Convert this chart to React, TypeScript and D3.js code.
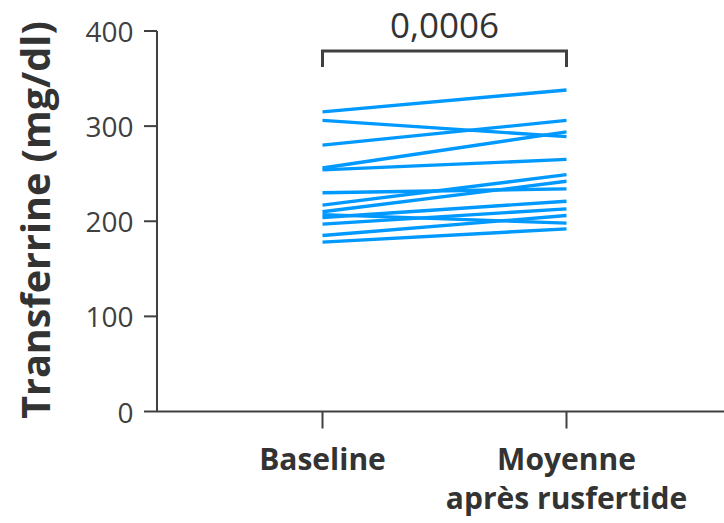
import React from "react";
import * as d3 from "d3";

const categories = ["Baseline", "Moyenne"];
const categoryLines = [["Baseline"], ["Moyenne", "après rusfertide"]];
const baselineValues = [315, 306, 280, 256, 254, 230, 217, 210, 207, 204, 197, 185, 178];
const afterValues = [338, 289, 306, 294, 265, 234, 249, 242, 198, 221, 213, 206, 192];
const yTicks = [0, 100, 200, 300, 400];
const pValue = "0,0006";
const yLabel = "Transferrine (mg/dl)";

const W = 724;
const H = 523;
const axisColor = "#404040";
const lineColor = "#0099FF";

export default function App() {
  const y = d3.scaleLinear().domain([0, 400]).range([411.5, 31]);
  const x = d3.scalePoint<string>().domain(categories).range([322.5, 566.5]);
  const axisX = 157;
  const y0 = y(0);
  const line = d3
    .line<[string, number]>()
    .x((d) => x(d[0]) as number)
    .y((d) => y(d[1]));
  const pairs = baselineValues.map((b, i) => [
    [categories[0], b],
    [categories[1], afterValues[i]],
  ] as [string, number][]);
  const xl = x(categories[0]) as number;
  const xr = x(categories[1]) as number;

  return (
    <svg
      width={W}
      height={H}
      style={{ position: "absolute", left: 0, top: 0, background: "#fff" }}
      fontFamily="'Open Sans', sans-serif"
    >
      {/* y axis */}
      <line x1={axisX} x2={axisX} y1={y(400)} y2={y0} stroke={axisColor} strokeWidth={2} />
      {yTicks.map((t) => (
        <g key={t}>
          <line x1={axisX - 13} x2={axisX} y1={y(t)} y2={y(t)} stroke={axisColor} strokeWidth={2} />
          <text
            x={133.5}
            y={y(t)}
            textAnchor="end"
            dominantBaseline="central"
            fontSize={28}
            fill={axisColor}
          >
            {t}
          </text>
        </g>
      ))}
      {/* x axis */}
      <line x1={axisX} x2={W} y1={y0} y2={y0} stroke={axisColor} strokeWidth={2} />
      {categories.map((c, i) => (
        <g key={c}>
          <line x1={x(c)} x2={x(c)} y1={y0} y2={y0 + 17} stroke={axisColor} strokeWidth={2} />
          {categoryLines[i].map((txt, j) => (
            <text
              key={j}
              x={x(c)}
              y={470 + j * 38.5}
              textAnchor="middle"
              fontSize={30}
              fontWeight="bold"
              fill="#333"
            >
              {txt}
            </text>
          ))}
        </g>
      ))}
      {/* y label */}
      <text
        transform={`translate(50, 220) rotate(-90)`}
        textAnchor="middle"
        fontSize={39.5}
        fontWeight="bold"
        fill="#333"
      >
        {yLabel}
      </text>
      {/* lines */}
      {pairs.map((p, i) => (
        <path key={i} d={line(p) || ""} fill="none" stroke={lineColor} strokeWidth={3.4} />
      ))}
      {/* bracket */}
      <path
        d={`M${xl},67 V51 H${xr} V67`}
        fill="none"
        stroke={axisColor}
        strokeWidth={3}
      />
      <text x={(xl + xr) / 2} y={38} textAnchor="middle" fontSize={35} fill="#333">
        {pValue}
      </text>
    </svg>
  );
}
